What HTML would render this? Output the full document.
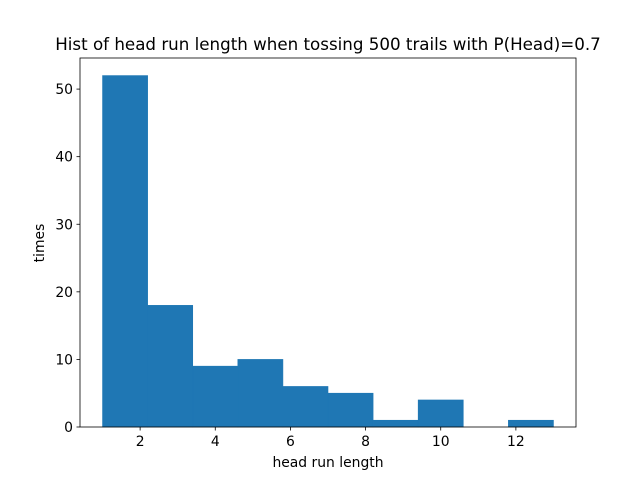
<!DOCTYPE html>
<html><head><meta charset="utf-8"><style>
body{margin:0;background:#fff;}
svg{display:block;font-family:"DejaVu Sans","Liberation Sans",sans-serif;}
</style></head><body>
<svg id="chart" width="640" height="480">
<rect width="640" height="480" fill="#fff"/>
<text x="328" y="50" font-size="16.7" text-anchor="middle">Hist of head run length when tossing 500 trails with P(Head)=0.7</text>
<g id="bars"></g>
<g id="axes"></g>
<text x="328" y="467" font-size="13.9" text-anchor="middle">head run length</text>
<text transform="translate(44,243) rotate(-90)" font-size="13.9" text-anchor="middle">times</text>
</svg>
<script>
const binEdges=[1,2.2,3.4,4.6,5.8,7,8.2,9.4,10.6,11.8,13];
const counts=[52,18,9,10,6,5,1,4,0,1];
const xTicks=[2,4,6,8,10,12];
const yTicks=[0,10,20,30,40,50];
const L=80,R=576,T=58,B=427;
const xmin=0.4,xmax=13.6,ymin=0,ymax=54.6;
const sx=v=>L+(v-xmin)/(xmax-xmin)*(R-L);
const sy=v=>B-(v-ymin)/(ymax-ymin)*(B-T);
const NS="http://www.w3.org/2000/svg";
const bars=document.getElementById('bars'),axes=document.getElementById('axes');
counts.forEach((c,i)=>{
  if(c<=0)return;
  const r=document.createElementNS(NS,'rect');
  r.setAttribute('x',sx(binEdges[i]));
  r.setAttribute('width',sx(binEdges[i+1])-sx(binEdges[i]));
  r.setAttribute('y',sy(c));
  r.setAttribute('height',sy(0)-sy(c));
  r.setAttribute('fill','#1f77b4');
  r.setAttribute('stroke','#1f77b4');
  r.setAttribute('stroke-width','0.6');
  
  
  bars.appendChild(r);
});
const frame=document.createElementNS(NS,'rect');
frame.setAttribute('x',L);frame.setAttribute('y',T);frame.setAttribute('width',R-L);frame.setAttribute('height',B-T);
frame.setAttribute('fill','none');frame.setAttribute('stroke','#000');frame.setAttribute('stroke-width','0.8');


axes.appendChild(frame);
xTicks.forEach(t=>{
  const x=sx(t);
  const l=document.createElementNS(NS,'line');
  l.setAttribute('x1',x);l.setAttribute('x2',x);l.setAttribute('y1',B);l.setAttribute('y2',B+3.5);l.setAttribute('stroke','#000');l.setAttribute('stroke-width','0.8');
  
  
  axes.appendChild(l);
  const tx=document.createElementNS(NS,'text');
  tx.setAttribute('x',x);tx.setAttribute('y',B+19);tx.setAttribute('font-size','13.9');tx.setAttribute('text-anchor','middle');tx.textContent=t;
  
  
  axes.appendChild(tx);
});
yTicks.forEach(t=>{
  const y=sy(t);
  const l=document.createElementNS(NS,'line');
  l.setAttribute('x1',L-3.5);l.setAttribute('x2',L);l.setAttribute('y1',y);l.setAttribute('y2',y);l.setAttribute('stroke','#000');l.setAttribute('stroke-width','0.8');
  
  
  axes.appendChild(l);
  const tx=document.createElementNS(NS,'text');
  tx.setAttribute('x',L-7);tx.setAttribute('y',y+5);tx.setAttribute('font-size','13.9');tx.setAttribute('text-anchor','end');tx.textContent=t;
  
  
  axes.appendChild(tx);
});
</script>
</body></html>
